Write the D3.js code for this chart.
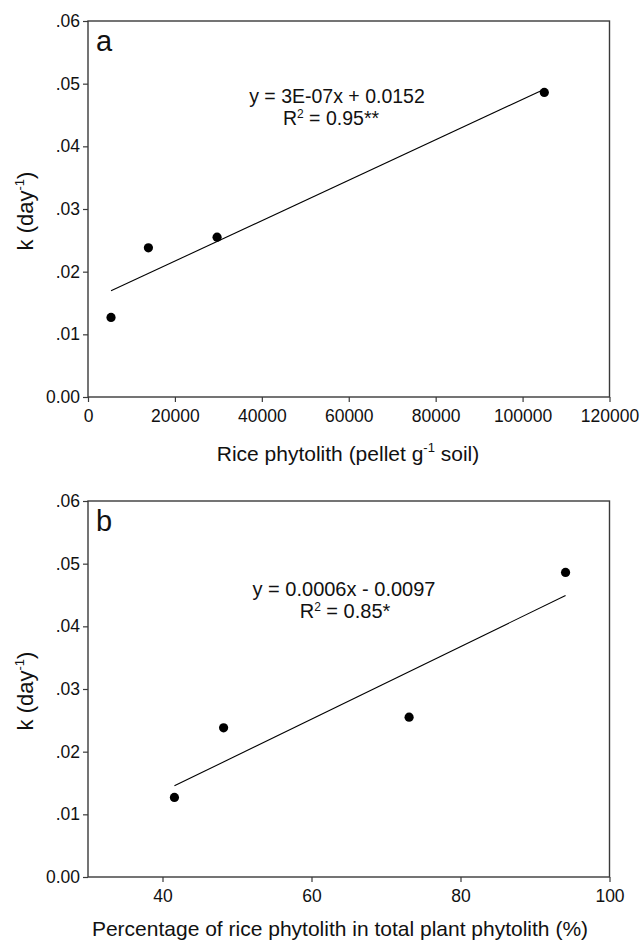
<!DOCTYPE html>
<html>
<head>
<meta charset="utf-8">
<script src="https://cdn.jsdelivr.net/npm/d3@7"></script>
<style>
  html, body { margin: 0; padding: 0; background: #fff; }
  svg { display: block; font-family: "Liberation Sans", Arial, Helvetica, sans-serif; }
</style>
</head>
<body>
<svg id="chart" width="641" height="942"></svg>
<script>
// ---- data ----
const kValues = [0.0127, 0.0238, 0.0255, 0.0486];            // k (day^-1)
const ricePhytolith = [5300, 13900, 29700, 105000];            // pellet g^-1 soil
const ricePercent = [41.6, 48.2, 73.1, 94.1];                  // % of total plant phytolith
const yTicks = [0, 0.01, 0.02, 0.03, 0.04, 0.05, 0.06];
const yTickLabels = ["0.00", ".01", ".02", ".03", ".04", ".05", ".06"];
const xTicksA = [0, 20000, 40000, 60000, 80000, 100000, 120000];
const xTicksB = [40, 60, 80, 100];
const eqA = ["y = 3E-07x + 0.0152", "0.95**"];
const eqB = ["y = 0.0006x - 0.0097", "0.85*"];

const svg = d3.select("#chart");
const FRAME = "#3a3a3a";

function fit(xs, ys) {
  const n = xs.length, mx = d3.mean(xs), my = d3.mean(ys);
  let sxy = 0, sxx = 0;
  for (let i = 0; i < n; i++) { sxy += (xs[i]-mx)*(ys[i]-my); sxx += (xs[i]-mx)**2; }
  const b = sxy / sxx, a = my - b*mx;
  return x => a + b*x;
}

function panel(opt) {
  const g = svg.append("g");
  const x = d3.scaleLinear().domain(opt.xDomain).range([88, 609.5]);
  const y = d3.scaleLinear().domain([0, 0.06]).range([opt.bottom, opt.bottom - 376]);

  // frame
  g.append("rect").attr("x", 88).attr("y", opt.bottom - 376)
    .attr("width", 521.5).attr("height", 376)
    .attr("fill", "none").attr("stroke", FRAME).attr("stroke-width", 1.4);

  const ya = g.append("g").attr("transform", "translate(88,0)")
    .call(d3.axisLeft(y).tickValues(yTicks).tickSize(5).tickPadding(3)
      .tickFormat((d, i) => yTickLabels[i]));
  const xa = g.append("g").attr("transform", `translate(0,${opt.bottom})`)
    .call(d3.axisBottom(x).tickValues(opt.xTicks).tickSize(5).tickPadding(8)
      .tickFormat(d3.format("d")));
  [ya, xa].forEach(a => {
    a.select(".domain").remove();
    a.selectAll(".tick line").attr("stroke", FRAME).attr("stroke-width", 1.2);
    a.selectAll(".tick text").attr("fill", "#111").style("font-size", "17.5px");
  });

  // regression line
  const f = fit(opt.xs, kValues);
  const x0 = d3.min(opt.xs), x1 = d3.max(opt.xs);
  g.append("line")
    .attr("x1", x(x0)).attr("y1", y(f(x0)))
    .attr("x2", x(x1)).attr("y2", y(f(x1)))
    .attr("stroke", "#000").attr("stroke-width", 1.1);

  // points
  g.selectAll("circle.pt").data(opt.xs).join("circle")
    .attr("class", "pt")
    .attr("cx", d => x(d)).attr("cy", (d, i) => y(kValues[i]))
    .attr("r", 4.6).attr("fill", "#000");

  // panel letter
  g.append("text").attr("x", 96).attr("y", opt.bottom - 346)
    .style("font-size", "29px").attr("fill", "#111").text(opt.letter);

  // equation
  g.append("text").attr("x", opt.eqX).attr("y", opt.eqY)
    .attr("text-anchor", "middle").style("font-size", opt.eqSize).attr("fill", "#111")
    .text(opt.eq[0]);
  const r2 = g.append("text").attr("x", opt.eqX2).attr("y", opt.eqY + 21.5)
    .attr("text-anchor", "middle").style("font-size", opt.eqSize).attr("fill", "#111");
  r2.append("tspan").text("R");
  r2.append("tspan").attr("dy", -7).style("font-size", "12px").text("2");
  r2.append("tspan").attr("dy", 7).text(" = " + opt.eq[1]);

  // y title
  const yt = g.append("text")
    .attr("transform", `translate(33,${opt.bottom - 186}) rotate(-90)`)
    .attr("text-anchor", "middle").style("font-size", "22px").attr("fill", "#111");
  yt.append("tspan").text("k (day");
  yt.append("tspan").attr("dy", -9).style("font-size", "13px").text("-1");
  yt.append("tspan").attr("dy", 9).text(")");

  // x title
  const xt = g.append("text").attr("x", opt.xtX).attr("y", opt.bottom + opt.xtDy)
    .attr("text-anchor", "middle").style("font-size", "21px").attr("fill", "#111");
  opt.xTitle(xt);
}

panel({
  xDomain: [0, 120000], xTicks: xTicksA, xs: ricePhytolith, bottom: 397,
  letter: "a", eq: eqA, eqX: 337, eqX2: 331, eqY: 103, eqSize: "19.5px",
  xtX: 348, xtDy: 64,
  xTitle: t => {
    t.append("tspan").text("Rice phytolith (pellet g");
    t.append("tspan").attr("dy", -9).style("font-size", "13px").text("-1");
    t.append("tspan").attr("dy", 9).text(" soil)");
  }
});

panel({
  xDomain: [30, 100], xTicks: xTicksB, xs: ricePercent, bottom: 877,
  letter: "b", eq: eqB, eqX: 344, eqX2: 345, eqY: 596, eqSize: "20px",
  xtX: 340, xtDy: 59,
  xTitle: t => t.text("Percentage of rice phytolith in total plant phytolith (%)")
});
</script>
</body>
</html>
